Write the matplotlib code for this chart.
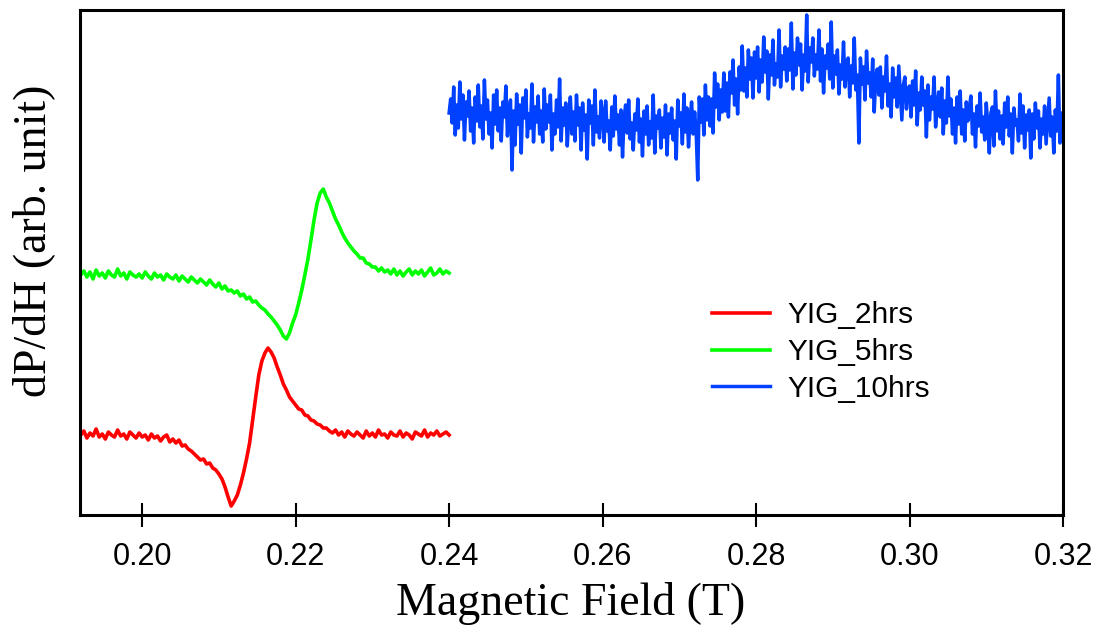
import numpy as np
import matplotlib
matplotlib.use("Agg")
import matplotlib.pyplot as plt

# field axis (T): low-field scans share one grid, the 10 hr scan has its own
field_low = np.linspace(0.192, 0.240, 121)
field_high = np.linspace(0.240, 0.320, 401)

# dP/dH (arb. unit, traces already offset)
yig_2hrs = [
    80, 84, 77, 82, 79, 86, 78, 81, 76, 83,
    80, 78, 85, 79, 81, 76, 83, 80, 77, 82,
    78, 80, 75, 81, 77, 79, 74, 78, 80, 73,
    76, 72, 75, 69, 70, 66, 64, 61, 58, 55,
    56, 51, 52, 47, 45, 41, 36, 28, 18, 9,
    14, 20, 30, 42, 56, 72, 95, 118, 140, 154,
    162, 167, 163, 157, 148, 140, 131, 125, 118, 114,
    110, 106, 105, 100, 99, 95, 94, 91, 90, 87,
    87, 84, 82, 85, 80, 83, 78, 84, 81, 79,
    83, 80, 77, 84, 79, 82, 78, 85, 80, 81,
    77, 83, 80, 79, 84, 78, 82, 80, 76, 83,
    81, 79, 85, 78, 82, 80, 84, 79, 81, 83, 80,
]

yig_5hrs = [
    240, 244, 238, 243, 236, 245, 239, 242, 237, 244,
    240, 238, 246, 239, 242, 236, 243, 240, 238, 241,
    237, 243, 239, 236, 242, 238, 240, 235, 241, 238,
    236, 240, 234, 239, 236, 233, 238, 235, 232, 236,
    233, 230, 235, 231, 228, 232, 226, 229, 224, 225,
    222, 224, 219, 221, 216, 218, 213, 214, 210, 207,
    205, 201, 198, 194, 190, 185, 179, 176, 182, 192,
    200, 212, 225, 240, 256, 275, 295, 312, 322, 326,
    318, 312, 304, 296, 290, 283, 277, 272, 268, 264,
    261, 257, 257, 252, 251, 248, 248, 244, 247, 243,
    245, 241, 246, 240, 244, 239, 243, 246, 240, 244,
    241, 245, 239, 243, 247, 240, 242, 246, 241, 244, 242,
]

yig_10hrs = [
    402, 416, 392, 428, 380, 410, 387, 433, 396, 420, 375, 413, 399, 424, 384, 407, 372, 418, 394, 430,
    388, 409, 376, 435, 396, 415, 381, 402, 367, 420, 391, 425, 384, 407, 374, 413, 398, 429, 379, 404,
    415, 345, 404, 370, 421, 391, 410, 362, 417, 397, 425, 378, 401, 387, 431, 373, 408, 393, 419, 381,
    404, 373, 426, 386, 410, 393, 420, 365, 401, 381, 415, 388, 436, 374, 407, 390, 412, 369, 398, 418,
    381, 403, 374, 420, 390, 407, 365, 412, 385, 400, 356, 415, 392, 409, 370, 425, 383, 398, 377, 414,
    401, 373, 414, 384, 394, 365, 408, 379, 419, 386, 400, 370, 405, 358, 397, 410, 382, 415, 376, 392,
    365, 401, 385, 416, 373, 396, 359, 404, 381, 409, 370, 393, 377, 420, 362, 399, 387, 405, 367, 397,
    378, 410, 360, 401, 382, 407, 375, 394, 356, 415, 389, 402, 371, 421, 383, 407, 368, 396, 413, 381,
    403, 382, 335, 418, 393, 416, 380, 430, 395, 418, 389, 416, 382, 442, 408, 431, 395, 425, 403, 442,
    404, 432, 398, 443, 422, 455, 410, 436, 401, 448, 425, 469, 424, 447, 418, 465, 436, 457, 417, 463,
    437, 468, 423, 455, 433, 478, 443, 464, 416, 460, 440, 475, 430, 451, 438, 485, 428, 459, 446, 468,
    434, 466, 445, 492, 426, 462, 440, 477, 450, 471, 425, 460, 444, 500, 433, 467, 453, 477, 439, 460,
    446, 485, 434, 466, 422, 459, 447, 471, 436, 493, 427, 459, 441, 465, 421, 450, 436, 473, 428, 453,
    457, 418, 449, 432, 477, 425, 440, 372, 457, 431, 448, 415, 464, 432, 442, 418, 456, 403, 437, 446,
    420, 448, 407, 438, 424, 459, 409, 431, 398, 447, 418, 437, 408, 449, 421, 395, 430, 438, 406, 426,
    429, 398, 434, 410, 444, 390, 422, 405, 438, 410, 424, 378, 430, 395, 418, 406, 438, 388, 409, 423,
    398, 427, 381, 414, 392, 438, 399, 416, 381, 407, 372, 418, 391, 424, 381, 405, 374, 413, 394, 408,
    419, 381, 401, 368, 409, 389, 422, 383, 398, 375, 412, 391, 362, 402, 408, 369, 424, 384, 404, 376,
    399, 371, 412, 388, 418, 379, 401, 362, 407, 390, 395, 374, 421, 382, 409, 367, 400, 385, 405, 357,
    401, 376, 412, 387, 404, 367, 396, 381, 409, 371, 394, 417, 379, 398, 362, 405, 384, 440, 372, 402, 392,
]

labels = ["YIG_2hrs", "YIG_5hrs", "YIG_10hrs"]
xticks = [0.20, 0.22, 0.24, 0.26, 0.28, 0.30, 0.32]

fig = plt.figure(figsize=(11.02, 6.32), dpi=100)
ax = fig.add_axes([0.0726, 0.1851, 0.8920, 0.7991])

ax.plot(field_low, yig_2hrs, color="#ff0000", lw=2.6, label=labels[0])
ax.plot(field_low, yig_5hrs, color="#00ff00", lw=2.6, label=labels[1])
ax.plot(field_high, yig_10hrs, color="#0040ff", lw=2.5, label=labels[2])

ax.set_xlim(0.1919, 0.320)
ax.set_ylim(0, 505)
ax.set_xticks(xticks)
ax.set_xticklabels([f"{t:.2f}" for t in xticks], family="Liberation Sans", fontsize=22)
ax.set_yticks([])

for s in ax.spines.values():
    s.set_linewidth(2.2)
ax.tick_params(axis="x", direction="inout", length=17, width=1.5, pad=11)

ax.set_xlabel("Magnetic Field (T)", family="Liberation Serif", fontsize=33)
ax.xaxis.set_label_coords(0.499, -0.132)
ax.set_ylabel("dP/dH (arb. unit)", family="Liberation Serif", fontsize=33)
ax.yaxis.set_label_coords(-0.0254, 0.5426)

leg = ax.legend(loc="upper left", bbox_to_anchor=(0.643, 0.423), frameon=False,
                prop={"family": "Liberation Sans", "size": 21.5},
                handlelength=1.95, handletextpad=0.57, labelspacing=0.29,
                borderpad=0, borderaxespad=0)

fig.savefig("out.png", dpi=100)
